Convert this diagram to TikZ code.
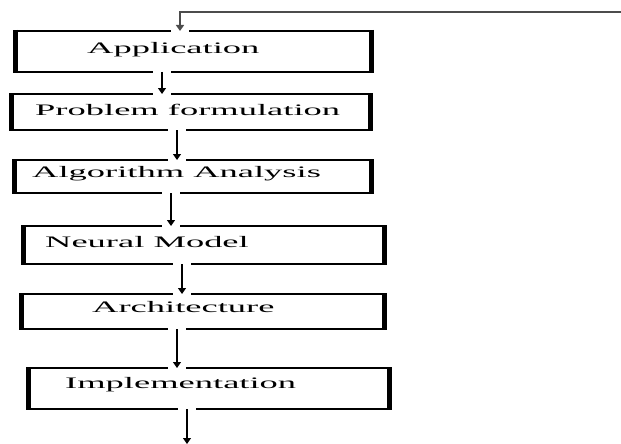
\documentclass[tikz,border=0pt]{standalone}
\usepackage{fontspec}
\setmainfont{Liberation Serif}
\usetikzlibrary{arrows.meta}
\newcommand\widetext[1]{\scalebox{2.28}[1]{#1}}
\begin{document}
\begin{tikzpicture}[x=1pt,y=-1pt,
  stagebox/.style={draw, line width=2pt, inner sep=0pt, outer sep=0pt,
    append after command={
      (\tikzlastnode.north west) edge[line width=5pt, shorten <=-1pt, shorten >=-1pt] (\tikzlastnode.south west)
      (\tikzlastnode.north east) edge[line width=5pt, shorten <=-1pt, shorten >=-1pt] (\tikzlastnode.south east)}},
  stagetext/.style={anchor=base west, inner sep=0pt, font=\fontsize{16}{19}\selectfont},
  flow/.style={line width=1.2pt, -{Triangle[length=6pt,width=8pt]},
    preaction={draw=white, line width=18pt, line cap=rect, -}},
  feedback/.style={flow, draw=black!70, line width=1.5pt}]
\useasboundingbox[fill=white] (0,0) rectangle (621,444);

% process stages
\node[stagebox, minimum width=356pt,   minimum height=41pt] (b1) at (193,51.5) {};
\node[stagebox, minimum width=359.5pt, minimum height=36pt] (b2) at (190.75,112) {};
\node[stagebox, minimum width=357.5pt, minimum height=33pt] (b3) at (192.75,176.5) {};
\node[stagebox, minimum width=361pt,   minimum height=38pt] (b4) at (204,245) {};
\node[stagebox, minimum width=363.5pt, minimum height=35pt] (b5) at (202.75,311.5) {};
\node[stagebox, minimum width=361pt,   minimum height=41pt] (b6) at (208.5,388.5) {};

% x positions of the connectors
\coordinate (c0) at (180,0);
\coordinate (c1) at (162,0);
\coordinate (c2) at (177,0);
\coordinate (c3) at (171,0);
\coordinate (c4) at (182,0);
\coordinate (c5) at (177,0);
\coordinate (c6) at (187,0);
\coordinate (fbin) at (621,12);
\coordinate (out) at (187,444);

% feedback line entering the first stage
\draw[feedback] (fbin) -- (fbin -| c0) -- (b1.north -| c0);

% connectors between stages
\draw[flow] (b1.south -| c1) -- (b2.north -| c1);
\draw[flow] (b2.south -| c2) -- (b3.north -| c2);
\draw[flow] (b3.south -| c3) -- (b4.north -| c3);
\draw[flow] (b4.south -| c4) -- (b5.north -| c4);
\draw[flow] (b5.south -| c5) -- (b6.north -| c5);
\draw[flow] (b6.south -| c6) -- (out);

% stage labels
\node[stagetext] (t1) at (87,54)  {\widetext{Application}};
\node[stagetext] (t2) at (35,115) {\widetext{Problem formulation}};
\node[stagetext] (t3) at (32,177) {\widetext{Algorithm Analysis}};
\node[stagetext] (t4) at (45,247) {\widetext{Neural Model}};
\node[stagetext] (t5) at (92,312) {\widetext{Architecture}};
\node[stagetext] (t6) at (65,388) {\widetext{Implementation}};
\end{tikzpicture}
\end{document}
